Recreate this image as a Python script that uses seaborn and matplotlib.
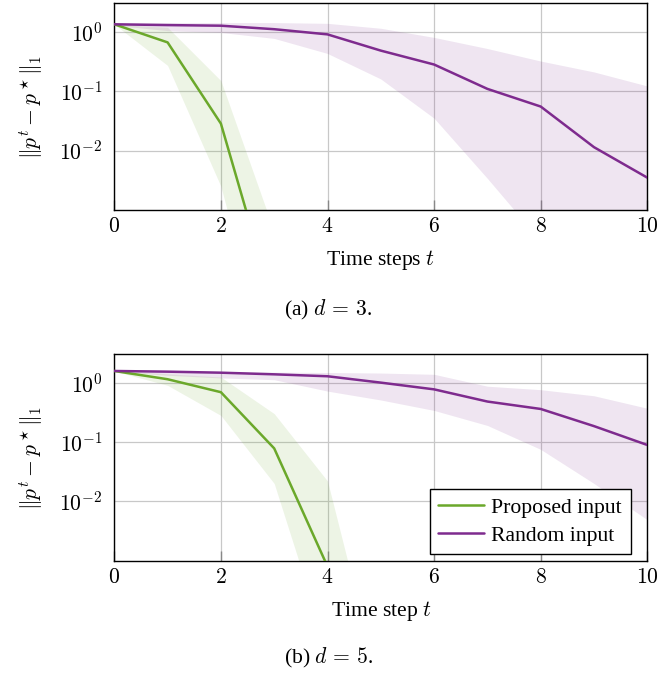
import numpy as np
import pandas as pd
import matplotlib
matplotlib.use("Agg")
import matplotlib.pyplot as plt
import seaborn as sns
from matplotlib.ticker import FixedLocator, FuncFormatter, NullLocator

# ---------------- data ----------------
series_names = ["Proposed input", "Random input"]

# d = 3
d3_t_prop = [0, 1, 2, 3]
d3_prop_mean = [1.33, 0.66, 0.0284, 2.3e-5]
d3_prop_upper = [1.33, 1.18, 0.15, 4.3e-4]
d3_prop_lower = [1.33, 0.27, 2.5e-3, 1e-6]

d3_t_rand = [0, 1, 2, 3, 4, 5, 6, 7, 8, 9, 10]
d3_rand_mean = [1.33, 1.29, 1.26, 1.10, 0.90, 0.48, 0.28, 0.109, 0.055, 0.0114, 0.0035]
d3_rand_upper = [1.40, 1.42, 1.42, 1.42, 1.38, 1.14, 0.80, 0.52, 0.32, 0.21, 0.122]
d3_rand_lower = [1.28, 1.04, 0.97, 0.77, 0.43, 0.16, 0.035, 0.0034, 3e-4, 3e-5, 3e-6]

# d = 5
d5_t_prop = [0, 1, 2, 3, 4, 5]
d5_prop_mean = [1.57, 1.14, 0.69, 0.078, 8e-4, 1e-6]
d5_prop_upper = [1.57, 1.41, 1.24, 0.30, 0.022, 6e-6]
d5_prop_lower = [1.57, 0.90, 0.28, 0.020, 3e-5, 1e-7]

d5_t_rand = [0, 1, 2, 3, 4, 5, 6, 7, 8, 9, 10]
d5_rand_mean = [1.57, 1.53, 1.47, 1.38, 1.28, 1.00, 0.77, 0.48, 0.36, 0.185, 0.089]
d5_rand_upper = [1.60, 1.55, 1.52, 1.50, 1.48, 1.45, 1.38, 0.87, 0.76, 0.60, 0.37]
d5_rand_lower = [1.55, 1.33, 1.20, 1.12, 0.72, 0.51, 0.34, 0.19, 0.075, 0.020, 0.0049]

x_ticks = [0, 2, 4, 6, 8, 10]
y_ticks = [1e-2, 1e-1, 1e0]
xlabels = ["Time steps $t$", "Time step $t$"]
captions = [r"(a) $d\,=\,3$.", r"(b) $d\,=\,5$."]
ylabel = r"$\|p^t - p^\star\|_1$"

GREEN = "#6BA82B"
PURPLE = "#7E2B8E"
palette = {series_names[0]: GREEN, series_names[1]: PURPLE}

# ---------------- style ----------------
sns.set_theme(style="whitegrid")
FS = 15.6
plt.rcParams["font.family"] = ["Liberation Serif", "DejaVu Serif"]
plt.rcParams["mathtext.fontset"] = "cm"
plt.rcParams["font.size"] = FS
plt.rcParams["text.color"] = "black"
plt.rcParams["axes.labelcolor"] = "black"
plt.rcParams["xtick.color"] = "black"
plt.rcParams["ytick.color"] = "black"

W, H = 657, 676
fig = plt.figure(figsize=(W / 100, H / 100), dpi=100)
ax1 = fig.add_axes([114.3 / W, 1 - 210 / H, 533 / W, 206.7 / H])
ax2 = fig.add_axes([114.3 / W, 1 - 560.7 / H, 533 / W, 206.4 / H])


def make_df(tp, mp, tr, mr):
    return pd.concat([
        pd.DataFrame({"t": tp, "value": mp, "series": series_names[0]}),
        pd.DataFrame({"t": tr, "value": mr, "series": series_names[1]}),
    ], ignore_index=True)


panels = [
    (ax1, d3_t_prop, d3_prop_mean, d3_prop_upper, d3_prop_lower,
     d3_t_rand, d3_rand_mean, d3_rand_upper, d3_rand_lower, False),
    (ax2, d5_t_prop, d5_prop_mean, d5_prop_upper, d5_prop_lower,
     d5_t_rand, d5_rand_mean, d5_rand_upper, d5_rand_lower, True),
]

for i, (ax, tp, mp, up, lp, tr, mr, ur, lr, leg) in enumerate(panels):
    ax.set_yscale("log")
    ax.fill_between(tp, lp, up, color=GREEN, alpha=0.12, linewidth=0, zorder=1)
    ax.fill_between(tr, lr, ur, color=PURPLE, alpha=0.12, linewidth=0, zorder=1)
    df = make_df(tp, mp, tr, mr)
    sns.lineplot(data=df, x="t", y="value", hue="series", palette=palette,
                 hue_order=series_names, linewidth=1.8, ax=ax, legend=leg,
                 zorder=3)
    ax.set_xlim(0, 10)
    ax.set_ylim(1e-3, 3)
    ax.xaxis.set_major_locator(FixedLocator(x_ticks))
    ax.xaxis.set_major_formatter(FuncFormatter(lambda v, p: r"$%d$" % int(round(v))))
    ax.yaxis.set_major_locator(FixedLocator(y_ticks))
    ax.yaxis.set_major_formatter(FuncFormatter(lambda v, p: r"$10^{%d}$" % int(round(np.log10(v)))))
    ax.yaxis.set_minor_locator(NullLocator())
    ax.grid(True, which="major", color="#c8c8c8", linewidth=0.9)
    ax.set_axisbelow(True)
    for s in ax.spines.values():
        s.set_color("black")
        s.set_linewidth(1.0)
    ax.tick_params(axis="x", direction="in", length=7, width=1.0, color="#888888",
                   pad=6, labelsize=FS, labelcolor="black", bottom=True)
    ax.tick_params(axis="y", length=0, pad=8.4, labelsize=FS, labelcolor="black")
    ax.set_xlabel(xlabels[i], fontsize=FS, va="center", color="black")
    ax.xaxis.set_label_coords(0.5, -0.242)
    ax.set_ylabel(ylabel, fontsize=FS, va="center", color="black")
    ax.yaxis.set_label_coords(-0.156, 0.5)

leg = ax2.legend(loc="lower right", bbox_to_anchor=(0.969, 0.031), borderaxespad=0,
                 fontsize=FS, frameon=True, fancybox=False, framealpha=1,
                 edgecolor="black", handlelength=2.1, handletextpad=0.35,
                 labelspacing=0.35, borderpad=0.4)
leg.get_frame().set_linewidth(1.0)
leg.set_title(None)
for txt in leg.get_texts():
    txt.set_color("black")

fig.text(0.5, 1 - 310 / H, captions[0], ha="center", va="center", fontsize=FS, color="black")
fig.text(0.5, 1 - 658 / H, captions[1], ha="center", va="center", fontsize=FS, color="black")

fig.savefig("out.png", dpi=100)
